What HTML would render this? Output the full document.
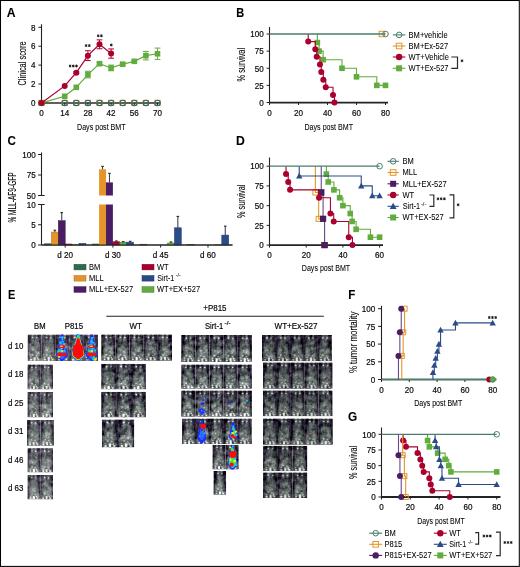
<!DOCTYPE html>
<html><head><meta charset="utf-8"><title>Figure</title>
<style>
html,body{margin:0;padding:0;background:#fff;}
body{width:520px;height:567px;overflow:hidden;position:relative;}
svg{display:block;will-change:transform;}
text{font-family:"Liberation Sans", sans-serif;stroke:#1a1a1a;stroke-width:0.22px;}
</style></head><body>
<svg width="520" height="567" viewBox="0 0 520 567" font-family='"Liberation Sans", sans-serif'>
<rect x="0" y="0" width="520" height="567" fill="#fff"/>
<text x="6.8" y="16.7" font-size="12.2" text-anchor="start" font-weight="bold" textLength="8.81" lengthAdjust="spacingAndGlyphs" fill="#000" style="stroke-width:0.1px">A</text>
<text x="236.2" y="16.9" font-size="12.2" text-anchor="start" font-weight="bold" textLength="7.93" lengthAdjust="spacingAndGlyphs" fill="#000" style="stroke-width:0.1px">B</text>
<text x="7.6" y="144.5" font-size="12.2" text-anchor="start" font-weight="bold" textLength="8.37" lengthAdjust="spacingAndGlyphs" fill="#000" style="stroke-width:0.1px">C</text>
<text x="236.1" y="144.5" font-size="12.2" text-anchor="start" font-weight="bold" textLength="8.81" lengthAdjust="spacingAndGlyphs" fill="#000" style="stroke-width:0.1px">D</text>
<text x="7.9" y="298.5" font-size="12.2" text-anchor="start" font-weight="bold" textLength="7.32" lengthAdjust="spacingAndGlyphs" fill="#000" style="stroke-width:0.1px">E</text>
<text x="348.3" y="298.6" font-size="12.2" text-anchor="start" font-weight="bold" textLength="7.08" lengthAdjust="spacingAndGlyphs" fill="#000" style="stroke-width:0.1px">F</text>
<text x="348.1" y="421.1" font-size="12.2" text-anchor="start" font-weight="bold" textLength="9.2" lengthAdjust="spacingAndGlyphs" fill="#000" style="stroke-width:0.1px">G</text>
<line x1="41.5" y1="24.3" x2="41.5" y2="102.9" stroke="#222" stroke-width="1.1"/>
<line x1="41.5" y1="102.9" x2="160.8" y2="102.9" stroke="#2a2a2a" stroke-width="1.5"/>
<line x1="41.5" y1="102.9" x2="41.5" y2="105.5" stroke="#222" stroke-width="1"/>
<line x1="64.7" y1="102.9" x2="64.7" y2="105.5" stroke="#222" stroke-width="1"/>
<line x1="87.9" y1="102.9" x2="87.9" y2="105.5" stroke="#222" stroke-width="1"/>
<line x1="111.1" y1="102.9" x2="111.1" y2="105.5" stroke="#222" stroke-width="1"/>
<line x1="134.3" y1="102.9" x2="134.3" y2="105.5" stroke="#222" stroke-width="1"/>
<line x1="157.5" y1="102.9" x2="157.5" y2="105.5" stroke="#222" stroke-width="1"/>
<line x1="38.4" y1="102.9" x2="41.5" y2="102.9" stroke="#222" stroke-width="1"/>
<text x="35.6" y="106.15" font-size="9.2" text-anchor="end" textLength="4.5" lengthAdjust="spacingAndGlyphs">0</text>
<line x1="38.4" y1="84" x2="41.5" y2="84" stroke="#222" stroke-width="1"/>
<text x="35.6" y="87.25" font-size="9.2" text-anchor="end" textLength="4.5" lengthAdjust="spacingAndGlyphs">2</text>
<line x1="38.4" y1="65.1" x2="41.5" y2="65.1" stroke="#222" stroke-width="1"/>
<text x="35.6" y="68.35" font-size="9.2" text-anchor="end" textLength="4.5" lengthAdjust="spacingAndGlyphs">4</text>
<line x1="38.4" y1="46.2" x2="41.5" y2="46.2" stroke="#222" stroke-width="1"/>
<text x="35.6" y="49.45" font-size="9.2" text-anchor="end" textLength="4.5" lengthAdjust="spacingAndGlyphs">6</text>
<line x1="38.4" y1="27.3" x2="41.5" y2="27.3" stroke="#222" stroke-width="1"/>
<text x="35.6" y="30.55" font-size="9.2" text-anchor="end" textLength="4.5" lengthAdjust="spacingAndGlyphs">8</text>
<text x="41.5" y="116.35" font-size="9.2" text-anchor="middle" textLength="4.5" lengthAdjust="spacingAndGlyphs">0</text>
<text x="64.7" y="116.35" font-size="9.2" text-anchor="middle" textLength="9" lengthAdjust="spacingAndGlyphs">14</text>
<text x="87.9" y="116.35" font-size="9.2" text-anchor="middle" textLength="9" lengthAdjust="spacingAndGlyphs">28</text>
<text x="111.1" y="116.35" font-size="9.2" text-anchor="middle" textLength="9" lengthAdjust="spacingAndGlyphs">42</text>
<text x="134.3" y="116.35" font-size="9.2" text-anchor="middle" textLength="9" lengthAdjust="spacingAndGlyphs">56</text>
<text x="157.5" y="116.35" font-size="9.2" text-anchor="middle" textLength="9" lengthAdjust="spacingAndGlyphs">70</text>
<text x="77" y="129.5" font-size="9.9" text-anchor="start" textLength="48.6" lengthAdjust="spacingAndGlyphs" style="stroke-width:0.08px">Days post BMT</text>
<text x="26.4" y="85.5" font-size="10.5" text-anchor="start" textLength="44.1" lengthAdjust="spacingAndGlyphs" transform="rotate(-90 26.4 85.5)" style="stroke-width:0.08px">Clinical score</text>
<rect x="38.9" y="100.3" width="5.2" height="5.2" fill="none" stroke="#e4952a" stroke-width="1"/>
<rect x="62.1" y="100.3" width="5.2" height="5.2" fill="none" stroke="#e4952a" stroke-width="1"/>
<rect x="73.7" y="100.3" width="5.2" height="5.2" fill="none" stroke="#e4952a" stroke-width="1"/>
<rect x="85.3" y="100.3" width="5.2" height="5.2" fill="none" stroke="#e4952a" stroke-width="1"/>
<rect x="96.9" y="100.3" width="5.2" height="5.2" fill="none" stroke="#e4952a" stroke-width="1"/>
<rect x="108.5" y="100.3" width="5.2" height="5.2" fill="none" stroke="#e4952a" stroke-width="1"/>
<rect x="120.1" y="100.3" width="5.2" height="5.2" fill="none" stroke="#e4952a" stroke-width="1"/>
<rect x="131.7" y="100.3" width="5.2" height="5.2" fill="none" stroke="#e4952a" stroke-width="1"/>
<rect x="143.3" y="100.3" width="5.2" height="5.2" fill="none" stroke="#e4952a" stroke-width="1"/>
<rect x="154.9" y="100.3" width="5.2" height="5.2" fill="none" stroke="#e4952a" stroke-width="1"/>
<circle cx="41.5" cy="102.9" r="2.65" fill="none" stroke="#2f6864" stroke-width="1.2"/>
<circle cx="64.7" cy="102.9" r="2.65" fill="none" stroke="#2f6864" stroke-width="1.2"/>
<circle cx="76.3" cy="102.9" r="2.65" fill="none" stroke="#2f6864" stroke-width="1.2"/>
<circle cx="87.9" cy="102.9" r="2.65" fill="none" stroke="#2f6864" stroke-width="1.2"/>
<circle cx="99.5" cy="102.9" r="2.65" fill="none" stroke="#2f6864" stroke-width="1.2"/>
<circle cx="111.1" cy="102.9" r="2.65" fill="none" stroke="#2f6864" stroke-width="1.2"/>
<circle cx="122.7" cy="102.9" r="2.65" fill="none" stroke="#2f6864" stroke-width="1.2"/>
<circle cx="134.3" cy="102.9" r="2.65" fill="none" stroke="#2f6864" stroke-width="1.2"/>
<circle cx="145.9" cy="102.9" r="2.65" fill="none" stroke="#2f6864" stroke-width="1.2"/>
<circle cx="157.5" cy="102.9" r="2.65" fill="none" stroke="#2f6864" stroke-width="1.2"/>
<path d="M41.5 102.9L64.7 96.29L76.3 87.31L87.9 74.55L99.5 63.68L111.1 67.94L122.7 64.16L134.3 61.32L145.9 55.65L157.5 53.76" stroke="#62ab3d" stroke-width="1.2" fill="none"/>
<line x1="87.9" y1="71.24" x2="87.9" y2="77.86" stroke="#62ab3d" stroke-width="0.9"/>
<line x1="85" y1="71.24" x2="90.8" y2="71.24" stroke="#62ab3d" stroke-width="1"/>
<line x1="85" y1="77.86" x2="90.8" y2="77.86" stroke="#62ab3d" stroke-width="1"/>
<line x1="99.5" y1="62.27" x2="99.5" y2="65.1" stroke="#62ab3d" stroke-width="0.9"/>
<line x1="96.6" y1="62.27" x2="102.4" y2="62.27" stroke="#62ab3d" stroke-width="1"/>
<line x1="96.6" y1="65.1" x2="102.4" y2="65.1" stroke="#62ab3d" stroke-width="1"/>
<line x1="111.1" y1="65.1" x2="111.1" y2="70.77" stroke="#62ab3d" stroke-width="0.9"/>
<line x1="108.2" y1="65.1" x2="114" y2="65.1" stroke="#62ab3d" stroke-width="1"/>
<line x1="108.2" y1="70.77" x2="114" y2="70.77" stroke="#62ab3d" stroke-width="1"/>
<line x1="122.7" y1="63.21" x2="122.7" y2="65.1" stroke="#62ab3d" stroke-width="0.9"/>
<line x1="119.8" y1="63.21" x2="125.6" y2="63.21" stroke="#62ab3d" stroke-width="1"/>
<line x1="119.8" y1="65.1" x2="125.6" y2="65.1" stroke="#62ab3d" stroke-width="1"/>
<line x1="134.3" y1="60.38" x2="134.3" y2="62.27" stroke="#62ab3d" stroke-width="0.9"/>
<line x1="131.4" y1="60.38" x2="137.2" y2="60.38" stroke="#62ab3d" stroke-width="1"/>
<line x1="131.4" y1="62.27" x2="137.2" y2="62.27" stroke="#62ab3d" stroke-width="1"/>
<line x1="145.9" y1="51.4" x2="145.9" y2="59.9" stroke="#62ab3d" stroke-width="0.9"/>
<line x1="143" y1="51.4" x2="148.8" y2="51.4" stroke="#62ab3d" stroke-width="1"/>
<line x1="143" y1="59.9" x2="148.8" y2="59.9" stroke="#62ab3d" stroke-width="1"/>
<line x1="157.5" y1="48.09" x2="157.5" y2="59.43" stroke="#62ab3d" stroke-width="0.9"/>
<line x1="154.6" y1="48.09" x2="160.4" y2="48.09" stroke="#62ab3d" stroke-width="1"/>
<line x1="154.6" y1="59.43" x2="160.4" y2="59.43" stroke="#62ab3d" stroke-width="1"/>
<rect x="38.7" y="100.1" width="5.6" height="5.6" fill="#62ab3d"/>
<rect x="61.9" y="93.49" width="5.6" height="5.6" fill="#62ab3d"/>
<rect x="73.5" y="84.51" width="5.6" height="5.6" fill="#62ab3d"/>
<rect x="85.1" y="71.75" width="5.6" height="5.6" fill="#62ab3d"/>
<rect x="96.7" y="60.88" width="5.6" height="5.6" fill="#62ab3d"/>
<rect x="108.3" y="65.14" width="5.6" height="5.6" fill="#62ab3d"/>
<rect x="119.9" y="61.36" width="5.6" height="5.6" fill="#62ab3d"/>
<rect x="131.5" y="58.52" width="5.6" height="5.6" fill="#62ab3d"/>
<rect x="143.1" y="52.85" width="5.6" height="5.6" fill="#62ab3d"/>
<rect x="154.7" y="50.96" width="5.6" height="5.6" fill="#62ab3d"/>
<path d="M41.5 102.9L64.7 85.89L76.3 72.66L87.9 55.65L99.5 44.31L111.1 53.57" stroke="#a9002f" stroke-width="1.2" fill="none"/>
<line x1="76.3" y1="71.72" x2="76.3" y2="73.61" stroke="#a9002f" stroke-width="0.9"/>
<line x1="73.4" y1="71.72" x2="79.2" y2="71.72" stroke="#a9002f" stroke-width="1"/>
<line x1="73.4" y1="73.61" x2="79.2" y2="73.61" stroke="#a9002f" stroke-width="1"/>
<line x1="87.9" y1="50.74" x2="87.9" y2="60.56" stroke="#a9002f" stroke-width="0.9"/>
<line x1="85" y1="50.74" x2="90.8" y2="50.74" stroke="#a9002f" stroke-width="1"/>
<line x1="85" y1="60.56" x2="90.8" y2="60.56" stroke="#a9002f" stroke-width="1"/>
<line x1="99.5" y1="39.87" x2="99.5" y2="48.75" stroke="#a9002f" stroke-width="0.9"/>
<line x1="96.6" y1="39.87" x2="102.4" y2="39.87" stroke="#a9002f" stroke-width="1"/>
<line x1="96.6" y1="48.75" x2="102.4" y2="48.75" stroke="#a9002f" stroke-width="1"/>
<line x1="111.1" y1="48.94" x2="111.1" y2="58.2" stroke="#a9002f" stroke-width="0.9"/>
<line x1="108.2" y1="48.94" x2="114" y2="48.94" stroke="#a9002f" stroke-width="1"/>
<line x1="108.2" y1="58.2" x2="114" y2="58.2" stroke="#a9002f" stroke-width="1"/>
<circle cx="41.5" cy="102.9" r="3" fill="#a9002f"/>
<circle cx="64.7" cy="85.89" r="3" fill="#a9002f"/>
<circle cx="76.3" cy="72.66" r="3" fill="#a9002f"/>
<circle cx="87.9" cy="55.65" r="3" fill="#a9002f"/>
<circle cx="99.5" cy="44.31" r="3" fill="#a9002f"/>
<circle cx="111.1" cy="53.57" r="3" fill="#a9002f"/>
<path d="M70.1 65L70.1 67M69.23 65.5L70.97 66.5M70.97 65.5L69.23 66.5M73.3 65L73.3 67M72.43 65.5L74.17 66.5M74.17 65.5L72.43 66.5M76.5 65L76.5 67M75.63 65.5L77.37 66.5M77.37 65.5L75.63 66.5" stroke="#1a1a1a" stroke-width="1" stroke-linecap="round" fill="none"/>
<path d="M86.1 44.6L86.1 46.6M85.23 45.1L86.97 46.1M86.97 45.1L85.23 46.1M89.3 44.6L89.3 46.6M88.43 45.1L90.17 46.1M90.17 45.1L88.43 46.1" stroke="#1a1a1a" stroke-width="1" stroke-linecap="round" fill="none"/>
<path d="M98.2 34.8L98.2 36.8M97.33 35.3L99.07 36.3M99.07 35.3L97.33 36.3M101.4 34.8L101.4 36.8M100.53 35.3L102.27 36.3M102.27 35.3L100.53 36.3" stroke="#1a1a1a" stroke-width="1" stroke-linecap="round" fill="none"/>
<path d="M111.3 44L111.3 46M110.43 44.5L112.17 45.5M112.17 44.5L110.43 45.5" stroke="#1a1a1a" stroke-width="1" stroke-linecap="round" fill="none"/>
<line x1="269.5" y1="27" x2="269.5" y2="102.5" stroke="#222" stroke-width="1.1"/>
<line x1="269.5" y1="102.7" x2="388" y2="102.7" stroke="#222" stroke-width="1.8"/>
<line x1="266.6" y1="102.5" x2="269.5" y2="102.5" stroke="#222" stroke-width="1"/>
<text x="263.8" y="105.75" font-size="9.2" text-anchor="end" textLength="4.5" lengthAdjust="spacingAndGlyphs">0</text>
<line x1="266.6" y1="85.38" x2="269.5" y2="85.38" stroke="#222" stroke-width="1"/>
<text x="263.8" y="88.62" font-size="9.2" text-anchor="end" textLength="9" lengthAdjust="spacingAndGlyphs">25</text>
<line x1="266.6" y1="68.25" x2="269.5" y2="68.25" stroke="#222" stroke-width="1"/>
<text x="263.8" y="71.5" font-size="9.2" text-anchor="end" textLength="9" lengthAdjust="spacingAndGlyphs">50</text>
<line x1="266.6" y1="51.12" x2="269.5" y2="51.12" stroke="#222" stroke-width="1"/>
<text x="263.8" y="54.37" font-size="9.2" text-anchor="end" textLength="9" lengthAdjust="spacingAndGlyphs">75</text>
<line x1="266.6" y1="34" x2="269.5" y2="34" stroke="#222" stroke-width="1"/>
<text x="263.8" y="37.25" font-size="9.2" text-anchor="end" textLength="13.51" lengthAdjust="spacingAndGlyphs">100</text>
<line x1="269.5" y1="102.5" x2="269.5" y2="105" stroke="#222" stroke-width="1"/>
<text x="269.5" y="116.25" font-size="9.2" text-anchor="middle" textLength="4.5" lengthAdjust="spacingAndGlyphs">0</text>
<line x1="298.5" y1="102.5" x2="298.5" y2="105" stroke="#222" stroke-width="1"/>
<text x="298.5" y="116.25" font-size="9.2" text-anchor="middle" textLength="9" lengthAdjust="spacingAndGlyphs">20</text>
<line x1="327.5" y1="102.5" x2="327.5" y2="105" stroke="#222" stroke-width="1"/>
<text x="327.5" y="116.25" font-size="9.2" text-anchor="middle" textLength="9" lengthAdjust="spacingAndGlyphs">40</text>
<line x1="356.5" y1="102.5" x2="356.5" y2="105" stroke="#222" stroke-width="1"/>
<text x="356.5" y="116.25" font-size="9.2" text-anchor="middle" textLength="9" lengthAdjust="spacingAndGlyphs">60</text>
<line x1="385.5" y1="102.5" x2="385.5" y2="105" stroke="#222" stroke-width="1"/>
<text x="385.5" y="116.25" font-size="9.2" text-anchor="middle" textLength="9" lengthAdjust="spacingAndGlyphs">80</text>
<text x="304.5" y="129.5" font-size="9.9" text-anchor="start" textLength="48.5" lengthAdjust="spacingAndGlyphs" style="stroke-width:0.08px">Days post BMT</text>
<text x="245" y="81.4" font-size="10.5" text-anchor="start" textLength="33.5" lengthAdjust="spacingAndGlyphs" transform="rotate(-90 245 81.4)" style="stroke-width:0.08px">% survival</text>
<path d="M317.35 34H317.35V42.56H319.09V51.12H323.15V59.69H342V68.25H356.5V76.81H376.8V85.38H385.5" stroke="#62ab3d" stroke-width="1.1" fill="none"/>
<rect x="314.55" y="39.76" width="5.6" height="5.6" fill="#62ab3d"/>
<rect x="316.29" y="48.32" width="5.6" height="5.6" fill="#62ab3d"/>
<rect x="320.35" y="56.89" width="5.6" height="5.6" fill="#62ab3d"/>
<rect x="339.2" y="65.45" width="5.6" height="5.6" fill="#62ab3d"/>
<rect x="353.7" y="74.01" width="5.6" height="5.6" fill="#62ab3d"/>
<rect x="374" y="82.58" width="5.6" height="5.6" fill="#62ab3d"/>
<rect x="382.7" y="82.58" width="5.6" height="5.6" fill="#62ab3d"/>
<path d="M308.21 34H308.21V41.6H315.32V49.21H316.77V56.81H319.96V64.41H321.26V72.09H323.3V79.69H325.76V87.29H333.01V94.9H334.46V102.5" stroke="#a9002f" stroke-width="1.1" fill="none"/>
<circle cx="308.21" cy="41.6" r="3" fill="#a9002f"/>
<circle cx="315.32" cy="49.21" r="3" fill="#a9002f"/>
<circle cx="316.77" cy="56.81" r="3" fill="#a9002f"/>
<circle cx="319.96" cy="64.41" r="3" fill="#a9002f"/>
<circle cx="321.26" cy="72.09" r="3" fill="#a9002f"/>
<circle cx="323.3" cy="79.69" r="3" fill="#a9002f"/>
<circle cx="325.76" cy="87.29" r="3" fill="#a9002f"/>
<circle cx="333.01" cy="94.9" r="3" fill="#a9002f"/>
<circle cx="334.46" cy="102.5" r="3" fill="#a9002f"/>
<rect x="379.18" y="31.3" width="5.4" height="5.4" fill="none" stroke="#e4952a" stroke-width="1"/>
<path d="M269.5 34H385.5" stroke="#477e6c" stroke-width="1.3" fill="none"/>
<circle cx="385.5" cy="34" r="2.8" fill="none" stroke="#477e6c" stroke-width="1"/>
<line x1="392.8" y1="34.9" x2="405.4" y2="34.9" stroke="#477e6c" stroke-width="1.1"/>
<circle cx="399.1" cy="34.9" r="2.8" fill="none" stroke="#477e6c" stroke-width="1"/>
<text x="408.6" y="37.65" font-size="8.6" text-anchor="start" textLength="39.11" lengthAdjust="spacingAndGlyphs" style="stroke-width:0.06px">BM+vehicle</text>
<line x1="392.8" y1="46" x2="405.4" y2="46" stroke="#e4952a" stroke-width="1.1"/>
<rect x="396.3" y="43.2" width="5.6" height="5.6" fill="none" stroke="#e4952a" stroke-width="1"/>
<text x="408.6" y="48.75" font-size="8.6" text-anchor="start" textLength="39.52" lengthAdjust="spacingAndGlyphs" style="stroke-width:0.06px">BM+Ex-527</text>
<line x1="392.8" y1="57" x2="405.4" y2="57" stroke="#a9002f" stroke-width="1.1"/>
<circle cx="399.1" cy="57" r="3.2" fill="#a9002f"/>
<text x="408.6" y="59.75" font-size="8.6" text-anchor="start" textLength="40.36" lengthAdjust="spacingAndGlyphs" style="stroke-width:0.06px">WT+Vehicle</text>
<line x1="392.8" y1="68.3" x2="405.4" y2="68.3" stroke="#62ab3d" stroke-width="1.1"/>
<rect x="396.1" y="65.3" width="6" height="6" fill="#62ab3d"/>
<text x="408.6" y="71.05" font-size="8.6" text-anchor="start" textLength="39.94" lengthAdjust="spacingAndGlyphs" style="stroke-width:0.06px">WT+Ex-527</text>
<path d="M451.3 57H457.5V68.3H451.3" stroke="#2a2a2a" stroke-width="1.2" fill="none"/>
<path d="M462 59.8L462 61.8M461.13 60.3L462.87 61.3M462.87 60.3L461.13 61.3" stroke="#1a1a1a" stroke-width="1" stroke-linecap="round" fill="none"/>
<line x1="41.5" y1="152.5" x2="41.5" y2="195.5" stroke="#222" stroke-width="1.1"/>
<line x1="41.5" y1="204" x2="41.5" y2="245" stroke="#222" stroke-width="1.1"/>
<line x1="41.5" y1="245" x2="232.5" y2="245" stroke="#222" stroke-width="1.2"/>
<line x1="38" y1="195.5" x2="44.7" y2="195.5" stroke="#222" stroke-width="1"/>
<text x="35.8" y="198.75" font-size="9.2" text-anchor="end" textLength="9" lengthAdjust="spacingAndGlyphs">50</text>
<line x1="38" y1="175" x2="41.5" y2="175" stroke="#222" stroke-width="1"/>
<text x="35.8" y="178.25" font-size="9.2" text-anchor="end" textLength="9" lengthAdjust="spacingAndGlyphs">75</text>
<line x1="38" y1="154.5" x2="41.5" y2="154.5" stroke="#222" stroke-width="1"/>
<text x="35.8" y="157.75" font-size="9.2" text-anchor="end" textLength="13.51" lengthAdjust="spacingAndGlyphs">100</text>
<line x1="38" y1="245" x2="41.5" y2="245" stroke="#222" stroke-width="1"/>
<text x="35.8" y="248.25" font-size="9.2" text-anchor="end" textLength="4.5" lengthAdjust="spacingAndGlyphs">0</text>
<line x1="38" y1="224.75" x2="41.5" y2="224.75" stroke="#222" stroke-width="1"/>
<text x="35.8" y="228" font-size="9.2" text-anchor="end" textLength="4.5" lengthAdjust="spacingAndGlyphs">5</text>
<line x1="38" y1="204.5" x2="44.7" y2="204.5" stroke="#222" stroke-width="1"/>
<text x="35.8" y="207.75" font-size="9.2" text-anchor="end" textLength="9" lengthAdjust="spacingAndGlyphs">10</text>
<text x="16.2" y="222.6" font-size="10" text-anchor="start" textLength="50.2" lengthAdjust="spacingAndGlyphs" transform="rotate(-90 16.2 222.6)" style="stroke-width:0.12px">% MLL-AF9-GFP</text>
<line x1="65.2" y1="245" x2="65.2" y2="247.6" stroke="#222" stroke-width="1"/>
<text x="65.2" y="258.3" font-size="9.2" text-anchor="middle" textLength="15.76" lengthAdjust="spacingAndGlyphs">d 20</text>
<line x1="112.9" y1="245" x2="112.9" y2="247.6" stroke="#222" stroke-width="1"/>
<text x="112.9" y="258.3" font-size="9.2" text-anchor="middle" textLength="15.76" lengthAdjust="spacingAndGlyphs">d 30</text>
<line x1="160.6" y1="245" x2="160.6" y2="247.6" stroke="#222" stroke-width="1"/>
<text x="160.6" y="258.3" font-size="9.2" text-anchor="middle" textLength="15.76" lengthAdjust="spacingAndGlyphs">d 45</text>
<line x1="208" y1="245" x2="208" y2="247.6" stroke="#222" stroke-width="1"/>
<text x="208" y="258.3" font-size="9.2" text-anchor="middle" textLength="15.76" lengthAdjust="spacingAndGlyphs">d 60</text>
<rect x="44.5" y="243.78" width="6.9" height="1.22" fill="#2f6a4e" stroke="#234f3a" stroke-width="0.5"/>
<rect x="51.4" y="232.04" width="6.9" height="12.96" fill="#e4952a" stroke="#ab6f1f" stroke-width="0.5"/>
<line x1="54.85" y1="230.22" x2="54.85" y2="232.04" stroke="#333" stroke-width="1"/>
<line x1="53.55" y1="230.22" x2="56.15" y2="230.22" stroke="#333" stroke-width="1.2"/>
<rect x="58.3" y="220.7" width="6.9" height="24.3" fill="#4a1d64" stroke="#37154b" stroke-width="0.5"/>
<line x1="61.75" y1="212.6" x2="61.75" y2="220.7" stroke="#333" stroke-width="1"/>
<line x1="60.45" y1="212.6" x2="63.05" y2="212.6" stroke="#333" stroke-width="1.2"/>
<rect x="65.2" y="243.99" width="6.9" height="1.01" fill="#a9002f" stroke="#7e0023" stroke-width="0.5"/>
<rect x="72.1" y="244.39" width="6.9" height="0.61" fill="#62ab3d" stroke="#49802d" stroke-width="0.5"/>
<rect x="79" y="243.38" width="6.9" height="1.62" fill="#2b4b88" stroke="#203866" stroke-width="0.5"/>
<rect x="92.2" y="243.99" width="6.9" height="1.01" fill="#2f6a4e" stroke="#234f3a" stroke-width="0.5"/>
<rect x="99.1" y="204.5" width="6.9" height="40.5" fill="#e4952a"/>
<rect x="99.1" y="169.26" width="6.9" height="26.24" fill="#e4952a"/>
<line x1="102.55" y1="166.39" x2="102.55" y2="169.26" stroke="#333" stroke-width="1"/>
<line x1="101.25" y1="166.39" x2="103.85" y2="166.39" stroke="#333" stroke-width="1.2"/>
<rect x="106" y="204.5" width="6.9" height="40.5" fill="#4a1d64"/>
<rect x="106" y="182.38" width="6.9" height="13.12" fill="#4a1d64"/>
<line x1="109.45" y1="173.36" x2="109.45" y2="182.38" stroke="#333" stroke-width="1"/>
<line x1="108.15" y1="173.36" x2="110.75" y2="173.36" stroke="#333" stroke-width="1.2"/>
<rect x="112.9" y="241.76" width="6.9" height="3.24" fill="#a9002f" stroke="#7e0023" stroke-width="0.5"/>
<line x1="116.35" y1="240.95" x2="116.35" y2="241.76" stroke="#333" stroke-width="1"/>
<line x1="115.05" y1="240.95" x2="117.65" y2="240.95" stroke="#333" stroke-width="1.2"/>
<rect x="119.8" y="242.16" width="6.9" height="2.84" fill="#62ab3d" stroke="#49802d" stroke-width="0.5"/>
<line x1="123.25" y1="241.56" x2="123.25" y2="242.16" stroke="#333" stroke-width="1"/>
<line x1="121.95" y1="241.56" x2="124.55" y2="241.56" stroke="#333" stroke-width="1.2"/>
<rect x="126.7" y="242.16" width="6.9" height="2.84" fill="#2b4b88" stroke="#203866" stroke-width="0.5"/>
<line x1="130.15" y1="241.35" x2="130.15" y2="242.16" stroke="#333" stroke-width="1"/>
<line x1="128.85" y1="241.35" x2="131.45" y2="241.35" stroke="#333" stroke-width="1.2"/>
<rect x="139.9" y="244.19" width="6.9" height="0.81" fill="#2f6a4e" stroke="#234f3a" stroke-width="0.5"/>
<rect x="167.5" y="242.97" width="6.9" height="2.03" fill="#62ab3d" stroke="#49802d" stroke-width="0.5"/>
<line x1="170.95" y1="241.96" x2="170.95" y2="242.97" stroke="#333" stroke-width="1"/>
<line x1="169.65" y1="241.96" x2="172.25" y2="241.96" stroke="#333" stroke-width="1.2"/>
<rect x="174.4" y="227.79" width="6.9" height="17.21" fill="#2b4b88" stroke="#203866" stroke-width="0.5"/>
<line x1="177.85" y1="216.45" x2="177.85" y2="227.79" stroke="#333" stroke-width="1"/>
<line x1="176.55" y1="216.45" x2="179.15" y2="216.45" stroke="#333" stroke-width="1.2"/>
<rect x="187.3" y="244.59" width="6.9" height="0.41" fill="#2f6a4e" stroke="#234f3a" stroke-width="0.5"/>
<rect x="214.9" y="244.39" width="6.9" height="0.61" fill="#62ab3d" stroke="#49802d" stroke-width="0.5"/>
<rect x="221.8" y="235.08" width="6.9" height="9.92" fill="#2b4b88" stroke="#203866" stroke-width="0.5"/>
<line x1="225.25" y1="226.17" x2="225.25" y2="235.08" stroke="#333" stroke-width="1"/>
<line x1="223.95" y1="226.17" x2="226.55" y2="226.17" stroke="#333" stroke-width="1.2"/>
<line x1="41.5" y1="245" x2="232.5" y2="245" stroke="#222" stroke-width="1.2"/>
<rect x="74" y="264.3" width="12" height="5.6" fill="#2f6a4e" stroke="#234f3a" stroke-width="0.5"/>
<text x="89" y="269.85" font-size="8.6" text-anchor="start" textLength="11.29" lengthAdjust="spacingAndGlyphs" style="stroke-width:0.06px">BM</text>
<rect x="74" y="275.5" width="12" height="5.6" fill="#e4952a" stroke="#ab6f1f" stroke-width="0.5"/>
<text x="89" y="281.05" font-size="8.6" text-anchor="start" textLength="14.64" lengthAdjust="spacingAndGlyphs" style="stroke-width:0.06px">MLL</text>
<rect x="74" y="286.7" width="12" height="5.6" fill="#4a1d64" stroke="#37154b" stroke-width="0.5"/>
<text x="89" y="292.25" font-size="8.6" text-anchor="start" textLength="44.13" lengthAdjust="spacingAndGlyphs" style="stroke-width:0.06px">MLL+EX-527</text>
<rect x="142" y="264.3" width="12" height="5.6" fill="#a9002f" stroke="#7e0023" stroke-width="0.5"/>
<text x="157" y="269.85" font-size="8.6" text-anchor="start" textLength="11.7" lengthAdjust="spacingAndGlyphs" style="stroke-width:0.06px">WT</text>
<rect x="142" y="275.5" width="12" height="5.6" fill="#2b4b88" stroke="#203866" stroke-width="0.5"/>
<text x="157.3" y="281.05" font-size="8.6" text-anchor="start" textLength="16.9" lengthAdjust="spacingAndGlyphs" style="stroke-width:0.06px">Sirt-1</text>
<text x="175.8" y="277" font-size="5.6" text-anchor="start" textLength="5" lengthAdjust="spacingAndGlyphs" style="stroke-width:0.06px">-/-</text>
<rect x="142" y="286.7" width="12" height="5.6" fill="#62ab3d" stroke="#49802d" stroke-width="0.5"/>
<text x="157" y="292.25" font-size="8.6" text-anchor="start" textLength="43.08" lengthAdjust="spacingAndGlyphs" style="stroke-width:0.06px">WT+EX+527</text>
<line x1="269.5" y1="157.5" x2="269.5" y2="245.1" stroke="#222" stroke-width="1.1"/>
<line x1="269.5" y1="245.1" x2="383" y2="245.1" stroke="#222" stroke-width="1.6"/>
<line x1="266.6" y1="245.1" x2="269.5" y2="245.1" stroke="#222" stroke-width="1"/>
<text x="263.8" y="248.35" font-size="9.2" text-anchor="end" textLength="4.5" lengthAdjust="spacingAndGlyphs">0</text>
<line x1="266.6" y1="225.38" x2="269.5" y2="225.38" stroke="#222" stroke-width="1"/>
<text x="263.8" y="228.62" font-size="9.2" text-anchor="end" textLength="9" lengthAdjust="spacingAndGlyphs">25</text>
<line x1="266.6" y1="205.65" x2="269.5" y2="205.65" stroke="#222" stroke-width="1"/>
<text x="263.8" y="208.9" font-size="9.2" text-anchor="end" textLength="9" lengthAdjust="spacingAndGlyphs">50</text>
<line x1="266.6" y1="185.92" x2="269.5" y2="185.92" stroke="#222" stroke-width="1"/>
<text x="263.8" y="189.17" font-size="9.2" text-anchor="end" textLength="9" lengthAdjust="spacingAndGlyphs">75</text>
<line x1="266.6" y1="166.2" x2="269.5" y2="166.2" stroke="#222" stroke-width="1"/>
<text x="263.8" y="169.45" font-size="9.2" text-anchor="end" textLength="13.51" lengthAdjust="spacingAndGlyphs">100</text>
<line x1="269.5" y1="245.1" x2="269.5" y2="247.6" stroke="#222" stroke-width="1"/>
<text x="269.5" y="258.25" font-size="9.2" text-anchor="middle" textLength="4.5" lengthAdjust="spacingAndGlyphs">0</text>
<line x1="306.2" y1="245.1" x2="306.2" y2="247.6" stroke="#222" stroke-width="1"/>
<text x="306.2" y="258.25" font-size="9.2" text-anchor="middle" textLength="9" lengthAdjust="spacingAndGlyphs">20</text>
<line x1="342.9" y1="245.1" x2="342.9" y2="247.6" stroke="#222" stroke-width="1"/>
<text x="342.9" y="258.25" font-size="9.2" text-anchor="middle" textLength="9" lengthAdjust="spacingAndGlyphs">40</text>
<line x1="379.6" y1="245.1" x2="379.6" y2="247.6" stroke="#222" stroke-width="1"/>
<text x="379.6" y="258.25" font-size="9.2" text-anchor="middle" textLength="9" lengthAdjust="spacingAndGlyphs">60</text>
<text x="301.8" y="271.4" font-size="9.9" text-anchor="start" textLength="48.4" lengthAdjust="spacingAndGlyphs" style="stroke-width:0.08px">Days post BMT</text>
<text x="245.1" y="218.1" font-size="10.5" text-anchor="start" textLength="33.5" lengthAdjust="spacingAndGlyphs" transform="rotate(-90 245.1 218.1)" style="stroke-width:0.08px">% survival</text>
<path d="M315.38 166.2H315.38V192.47H318.68V218.83H324.55V245.1" stroke="#e4952a" stroke-width="1.1" fill="none"/>
<rect x="312.88" y="189.97" width="5" height="5" fill="none" stroke="#e4952a" stroke-width="1"/>
<rect x="316.18" y="216.33" width="5" height="5" fill="none" stroke="#e4952a" stroke-width="1"/>
<rect x="322.05" y="242.6" width="5" height="5" fill="none" stroke="#e4952a" stroke-width="1"/>
<path d="M321.25 166.2H321.25V192.47H323.08V218.83H324.55V245.1" stroke="#6a4a8a" stroke-width="1.1" fill="none"/>
<rect x="318.45" y="189.67" width="5.6" height="5.6" fill="#4a1d64" stroke="#2a0d3d" stroke-width="0.6"/>
<rect x="320.28" y="216.03" width="5.6" height="5.6" fill="#4a1d64" stroke="#2a0d3d" stroke-width="0.6"/>
<rect x="321.75" y="242.3" width="5.6" height="5.6" fill="#4a1d64" stroke="#2a0d3d" stroke-width="0.6"/>
<path d="M286.01 166.2H286.01V174.09H288.22V181.98H290.05V189.87H319.05V197.76H330.42V213.54H333.73V221.43H348.77V237.21H352.44V245.1" stroke="#a9002f" stroke-width="1.1" fill="none"/>
<circle cx="286.01" cy="174.09" r="3" fill="#a9002f"/>
<circle cx="288.22" cy="181.98" r="3" fill="#a9002f"/>
<circle cx="290.05" cy="189.87" r="3" fill="#a9002f"/>
<circle cx="319.05" cy="197.76" r="3" fill="#a9002f"/>
<circle cx="330.42" cy="213.54" r="3" fill="#a9002f"/>
<circle cx="333.73" cy="221.43" r="3" fill="#a9002f"/>
<circle cx="348.77" cy="237.21" r="3" fill="#a9002f"/>
<circle cx="352.44" cy="245.1" r="3" fill="#a9002f"/>
<path d="M326.38 166.2H326.38V174.09H328.22V181.98H333.91V189.87H339.6V197.76H342.9V205.65H350.24V213.54H352.07V221.43H356.11V229.32H370.43V237.21H379.6" stroke="#62ab3d" stroke-width="1.1" fill="none"/>
<rect x="323.58" y="171.29" width="5.6" height="5.6" fill="#62ab3d"/>
<rect x="325.42" y="179.18" width="5.6" height="5.6" fill="#62ab3d"/>
<rect x="331.11" y="187.07" width="5.6" height="5.6" fill="#62ab3d"/>
<rect x="336.8" y="194.96" width="5.6" height="5.6" fill="#62ab3d"/>
<rect x="340.1" y="202.85" width="5.6" height="5.6" fill="#62ab3d"/>
<rect x="347.44" y="210.74" width="5.6" height="5.6" fill="#62ab3d"/>
<rect x="349.27" y="218.63" width="5.6" height="5.6" fill="#62ab3d"/>
<rect x="353.31" y="226.52" width="5.6" height="5.6" fill="#62ab3d"/>
<rect x="367.62" y="234.41" width="5.6" height="5.6" fill="#62ab3d"/>
<rect x="376.8" y="234.41" width="5.6" height="5.6" fill="#62ab3d"/>
<path d="M299.23 166.2H299.23V176.06H361.25V185.92H372.26V195.79H379.6" stroke="#2b4b88" stroke-width="1.1" fill="none"/>
<path d="M299.23 172.84L302.43 178.6L296.03 178.6Z" fill="#2b4b88"/>
<path d="M361.25 182.7L364.45 188.46L358.05 188.46Z" fill="#2b4b88"/>
<path d="M372.26 192.56L375.46 198.32L369.06 198.32Z" fill="#2b4b88"/>
<path d="M379.6 192.56L382.8 198.32L376.4 198.32Z" fill="#2b4b88"/>
<path d="M269.5 166.2H379.6" stroke="#477e6c" stroke-width="1.3" fill="none"/>
<circle cx="379.6" cy="166.2" r="2.8" fill="none" stroke="#477e6c" stroke-width="1"/>
<line x1="387.5" y1="161.3" x2="398.8" y2="161.3" stroke="#477e6c" stroke-width="1.1"/>
<circle cx="393.15" cy="161.3" r="2.8" fill="none" stroke="#477e6c" stroke-width="1"/>
<text x="402.5" y="164.05" font-size="8.6" text-anchor="start" textLength="11.29" lengthAdjust="spacingAndGlyphs" style="stroke-width:0.06px">BM</text>
<line x1="387.5" y1="172.5" x2="398.8" y2="172.5" stroke="#e4952a" stroke-width="1.1"/>
<rect x="390.35" y="169.7" width="5.6" height="5.6" fill="none" stroke="#e4952a" stroke-width="1"/>
<text x="402.5" y="175.25" font-size="8.6" text-anchor="start" textLength="14.64" lengthAdjust="spacingAndGlyphs" style="stroke-width:0.06px">MLL</text>
<line x1="387.5" y1="183.8" x2="398.8" y2="183.8" stroke="#4a1d64" stroke-width="1.1"/>
<rect x="390.15" y="180.8" width="6" height="6" fill="#4a1d64"/>
<text x="402.5" y="186.55" font-size="8.6" text-anchor="start" textLength="44.13" lengthAdjust="spacingAndGlyphs" style="stroke-width:0.06px">MLL+EX-527</text>
<line x1="387.5" y1="195" x2="398.8" y2="195" stroke="#a9002f" stroke-width="1.1"/>
<circle cx="393.15" cy="195" r="3.2" fill="#a9002f"/>
<text x="402.5" y="197.75" font-size="8.6" text-anchor="start" textLength="11.7" lengthAdjust="spacingAndGlyphs" style="stroke-width:0.06px">WT</text>
<line x1="387.5" y1="206.3" x2="398.8" y2="206.3" stroke="#2b4b88" stroke-width="1.1"/>
<path d="M393.15 202.87L396.55 208.99L389.75 208.99Z" fill="#2b4b88"/>
<text x="402.75" y="209.05" font-size="8.6" text-anchor="start" textLength="17.3" lengthAdjust="spacingAndGlyphs" style="stroke-width:0.06px">Sirt-1</text>
<text x="421" y="206.4" font-size="5.6" text-anchor="start" textLength="5.3" lengthAdjust="spacingAndGlyphs" style="stroke-width:0.06px">-/-</text>
<line x1="387.5" y1="217.5" x2="398.8" y2="217.5" stroke="#62ab3d" stroke-width="1.1"/>
<rect x="390.15" y="214.5" width="6" height="6" fill="#62ab3d"/>
<text x="402.5" y="220.25" font-size="8.6" text-anchor="start" textLength="41.19" lengthAdjust="spacingAndGlyphs" style="stroke-width:0.06px">WT+EX-527</text>
<path d="M429.5 195H433.8V206.3H429.5" stroke="#2a2a2a" stroke-width="1.2" fill="none"/>
<path d="M438 197.8L438 199.8M437.13 198.3L438.87 199.3M438.87 198.3L437.13 199.3M441.2 197.8L441.2 199.8M440.33 198.3L442.07 199.3M442.07 198.3L440.33 199.3M444.4 197.8L444.4 199.8M443.53 198.3L445.27 199.3M445.27 198.3L443.53 199.3" stroke="#1a1a1a" stroke-width="1" stroke-linecap="round" fill="none"/>
<path d="M449.5 194.9H453.8V217.9H449.5" stroke="#2a2a2a" stroke-width="1.2" fill="none"/>
<path d="M458.1 203.8L458.1 205.8M457.23 204.3L458.97 205.3M458.97 204.3L457.23 205.3" stroke="#1a1a1a" stroke-width="1" stroke-linecap="round" fill="none"/>
<line x1="381.5" y1="305.8" x2="381.5" y2="379.5" stroke="#222" stroke-width="1.1"/>
<line x1="378" y1="379.5" x2="381.5" y2="379.5" stroke="#222" stroke-width="1"/>
<text x="375.3" y="382.75" font-size="9.2" text-anchor="end" textLength="4.5" lengthAdjust="spacingAndGlyphs">0</text>
<line x1="378" y1="361.8" x2="381.5" y2="361.8" stroke="#222" stroke-width="1"/>
<text x="375.3" y="365.05" font-size="9.2" text-anchor="end" textLength="9" lengthAdjust="spacingAndGlyphs">25</text>
<line x1="378" y1="344.1" x2="381.5" y2="344.1" stroke="#222" stroke-width="1"/>
<text x="375.3" y="347.35" font-size="9.2" text-anchor="end" textLength="9" lengthAdjust="spacingAndGlyphs">50</text>
<line x1="378" y1="326.4" x2="381.5" y2="326.4" stroke="#222" stroke-width="1"/>
<text x="375.3" y="329.65" font-size="9.2" text-anchor="end" textLength="9" lengthAdjust="spacingAndGlyphs">75</text>
<line x1="378" y1="308.7" x2="381.5" y2="308.7" stroke="#222" stroke-width="1"/>
<text x="375.3" y="311.95" font-size="9.2" text-anchor="end" textLength="13.51" lengthAdjust="spacingAndGlyphs">100</text>
<line x1="381.5" y1="379.5" x2="381.5" y2="382" stroke="#222" stroke-width="1"/>
<text x="381.5" y="393.25" font-size="9.2" text-anchor="middle" textLength="4.5" lengthAdjust="spacingAndGlyphs">0</text>
<line x1="409.3" y1="379.5" x2="409.3" y2="382" stroke="#222" stroke-width="1"/>
<text x="409.3" y="393.25" font-size="9.2" text-anchor="middle" textLength="9" lengthAdjust="spacingAndGlyphs">20</text>
<line x1="437.1" y1="379.5" x2="437.1" y2="382" stroke="#222" stroke-width="1"/>
<text x="437.1" y="393.25" font-size="9.2" text-anchor="middle" textLength="9" lengthAdjust="spacingAndGlyphs">40</text>
<line x1="464.9" y1="379.5" x2="464.9" y2="382" stroke="#222" stroke-width="1"/>
<text x="464.9" y="393.25" font-size="9.2" text-anchor="middle" textLength="9" lengthAdjust="spacingAndGlyphs">60</text>
<line x1="492.7" y1="379.5" x2="492.7" y2="382" stroke="#222" stroke-width="1"/>
<text x="492.7" y="393.25" font-size="9.2" text-anchor="middle" textLength="9" lengthAdjust="spacingAndGlyphs">80</text>
<text x="414.3" y="406.2" font-size="9.9" text-anchor="start" textLength="47.9" lengthAdjust="spacingAndGlyphs" style="stroke-width:0.08px">Days post BMT</text>
<text x="357.1" y="373.1" font-size="10.5" text-anchor="start" textLength="61.5" lengthAdjust="spacingAndGlyphs" transform="rotate(-90 357.1 373.1)" style="stroke-width:0.08px">% tumor mortality</text>
<line x1="381.5" y1="379.5" x2="496.3" y2="379.5" stroke="#222" stroke-width="1.4"/>
<line x1="381.5" y1="379.5" x2="496.3" y2="379.5" stroke="#477e6c" stroke-width="1.3"/>
<path d="M401.79 379.5H401.79V355.92H403.18V332.28H404.57V308.7" stroke="#e4952a" stroke-width="1.1" fill="none"/>
<rect x="399.29" y="353.42" width="5" height="5" fill="none" stroke="#e4952a" stroke-width="1"/>
<rect x="400.68" y="329.78" width="5" height="5" fill="none" stroke="#e4952a" stroke-width="1"/>
<rect x="402.07" y="306.2" width="5" height="5" fill="none" stroke="#e4952a" stroke-width="1"/>
<path d="M398.46 379.5H398.46V355.92H399.85V332.28H401.24V308.7" stroke="#6a4a8a" stroke-width="1.1" fill="none"/>
<circle cx="398.46" cy="355.92" r="3" fill="#4a1d64"/>
<circle cx="399.85" cy="332.28" r="3" fill="#4a1d64"/>
<circle cx="401.24" cy="308.7" r="3" fill="#4a1d64"/>
<path d="M432.93 379.5H432.93V372.42H434.32V365.34H435.71V358.26H437.38V351.18H438.91V344.1H440.57V329.94H455.45V322.86H492.7" stroke="#2b4b88" stroke-width="1.1" fill="none"/>
<path d="M432.93 369.19L436.13 374.95L429.73 374.95Z" fill="#2b4b88"/>
<path d="M434.32 362.11L437.52 367.87L431.12 367.87Z" fill="#2b4b88"/>
<path d="M435.71 355.03L438.91 360.79L432.51 360.79Z" fill="#2b4b88"/>
<path d="M437.38 347.95L440.58 353.71L434.18 353.71Z" fill="#2b4b88"/>
<path d="M438.91 340.87L442.11 346.63L435.71 346.63Z" fill="#2b4b88"/>
<path d="M440.57 326.71L443.77 332.47L437.38 332.47Z" fill="#2b4b88"/>
<path d="M455.45 319.63L458.65 325.39L452.25 325.39Z" fill="#2b4b88"/>
<path d="M492.7 319.63L495.9 325.39L489.5 325.39Z" fill="#2b4b88"/>
<circle cx="489.23" cy="379.5" r="2.9" fill="#a9002f"/>
<circle cx="492.7" cy="379.5" r="2.9" fill="#62ab3d"/>
<circle cx="492.7" cy="379.5" r="2.7" fill="none" stroke="#477e6c" stroke-width="0.8"/>
<path d="M489.3 316.5L489.3 318.5M488.43 317L490.17 318M490.17 317L488.43 318M492.5 316.5L492.5 318.5M491.63 317L493.37 318M493.37 317L491.63 318M495.7 316.5L495.7 318.5M494.83 317L496.57 318M496.57 317L494.83 318" stroke="#1a1a1a" stroke-width="1" stroke-linecap="round" fill="none"/>
<line x1="381.5" y1="427.5" x2="381.5" y2="497" stroke="#222" stroke-width="1.1"/>
<line x1="381.5" y1="497" x2="500.5" y2="497" stroke="#222" stroke-width="1.8"/>
<line x1="378.5" y1="497" x2="381.5" y2="497" stroke="#222" stroke-width="1"/>
<text x="375.8" y="500.25" font-size="9.2" text-anchor="end" textLength="4.5" lengthAdjust="spacingAndGlyphs">0</text>
<line x1="378.5" y1="481.32" x2="381.5" y2="481.32" stroke="#222" stroke-width="1"/>
<text x="375.8" y="484.57" font-size="9.2" text-anchor="end" textLength="9" lengthAdjust="spacingAndGlyphs">25</text>
<line x1="378.5" y1="465.65" x2="381.5" y2="465.65" stroke="#222" stroke-width="1"/>
<text x="375.8" y="468.9" font-size="9.2" text-anchor="end" textLength="9" lengthAdjust="spacingAndGlyphs">50</text>
<line x1="378.5" y1="449.98" x2="381.5" y2="449.98" stroke="#222" stroke-width="1"/>
<text x="375.8" y="453.23" font-size="9.2" text-anchor="end" textLength="9" lengthAdjust="spacingAndGlyphs">75</text>
<line x1="378.5" y1="434.3" x2="381.5" y2="434.3" stroke="#222" stroke-width="1"/>
<text x="375.8" y="437.55" font-size="9.2" text-anchor="end" textLength="13.51" lengthAdjust="spacingAndGlyphs">100</text>
<line x1="381.5" y1="497" x2="381.5" y2="499.5" stroke="#222" stroke-width="1"/>
<text x="381.5" y="510.25" font-size="9.2" text-anchor="middle" textLength="4.5" lengthAdjust="spacingAndGlyphs">0</text>
<line x1="410.3" y1="497" x2="410.3" y2="499.5" stroke="#222" stroke-width="1"/>
<text x="410.3" y="510.25" font-size="9.2" text-anchor="middle" textLength="9" lengthAdjust="spacingAndGlyphs">20</text>
<line x1="439.1" y1="497" x2="439.1" y2="499.5" stroke="#222" stroke-width="1"/>
<text x="439.1" y="510.25" font-size="9.2" text-anchor="middle" textLength="9" lengthAdjust="spacingAndGlyphs">40</text>
<line x1="467.9" y1="497" x2="467.9" y2="499.5" stroke="#222" stroke-width="1"/>
<text x="467.9" y="510.25" font-size="9.2" text-anchor="middle" textLength="9" lengthAdjust="spacingAndGlyphs">60</text>
<line x1="496.7" y1="497" x2="496.7" y2="499.5" stroke="#222" stroke-width="1"/>
<text x="496.7" y="510.25" font-size="9.2" text-anchor="middle" textLength="9" lengthAdjust="spacingAndGlyphs">80</text>
<text x="417.2" y="523.6" font-size="9.9" text-anchor="start" textLength="47.6" lengthAdjust="spacingAndGlyphs" style="stroke-width:0.08px">Days post BMT</text>
<text x="357" y="479" font-size="10.5" text-anchor="start" textLength="33.2" lengthAdjust="spacingAndGlyphs" transform="rotate(-90 357 479)" style="stroke-width:0.08px">% survival</text>
<path d="M427.58 434.3H427.58V440.57H429.31V446.84H437.66V453.11H445.15V459.38H448.75V465.65H450.91V471.92H496.7" stroke="#62ab3d" stroke-width="1.1" fill="none"/>
<rect x="424.78" y="437.77" width="5.6" height="5.6" fill="#62ab3d"/>
<rect x="426.51" y="444.04" width="5.6" height="5.6" fill="#62ab3d"/>
<rect x="434.86" y="450.31" width="5.6" height="5.6" fill="#62ab3d"/>
<rect x="442.35" y="456.58" width="5.6" height="5.6" fill="#62ab3d"/>
<rect x="445.95" y="462.85" width="5.6" height="5.6" fill="#62ab3d"/>
<rect x="448.11" y="469.12" width="5.6" height="5.6" fill="#62ab3d"/>
<rect x="493.9" y="469.12" width="5.6" height="5.6" fill="#62ab3d"/>
<path d="M435.07 434.3H435.07V440.57H436.22V446.84H439.39V459.38H440.83V465.65H441.98V478.19H458.54V484.46H496.7" stroke="#2b4b88" stroke-width="1.1" fill="none"/>
<path d="M435.07 437.34L438.27 443.1L431.87 443.1Z" fill="#2b4b88"/>
<path d="M436.22 443.61L439.42 449.37L433.02 449.37Z" fill="#2b4b88"/>
<path d="M439.39 456.15L442.59 461.91L436.19 461.91Z" fill="#2b4b88"/>
<path d="M440.83 462.42L444.03 468.18L437.63 468.18Z" fill="#2b4b88"/>
<path d="M441.98 474.96L445.18 480.72L438.78 480.72Z" fill="#2b4b88"/>
<path d="M458.54 481.23L461.74 486.99L455.34 486.99Z" fill="#2b4b88"/>
<path d="M496.7 481.23L499.9 486.99L493.5 486.99Z" fill="#2b4b88"/>
<path d="M403.1 434.3H403.1V440.57H405.98V446.84H417.5V453.11H420.38V459.38H422.25V465.65H423.69V471.92H429.31V478.19H430.75V484.46H432.33V490.73H449.76V497" stroke="#a9002f" stroke-width="1.1" fill="none"/>
<circle cx="403.1" cy="440.57" r="3" fill="#a9002f"/>
<circle cx="405.98" cy="446.84" r="3" fill="#a9002f"/>
<circle cx="417.5" cy="453.11" r="3" fill="#a9002f"/>
<circle cx="420.38" cy="459.38" r="3" fill="#a9002f"/>
<circle cx="422.25" cy="465.65" r="3" fill="#a9002f"/>
<circle cx="423.69" cy="471.92" r="3" fill="#a9002f"/>
<circle cx="429.31" cy="478.19" r="3" fill="#a9002f"/>
<circle cx="430.75" cy="484.46" r="3" fill="#a9002f"/>
<circle cx="432.33" cy="490.73" r="3" fill="#a9002f"/>
<circle cx="449.76" cy="497" r="3" fill="#a9002f"/>
<path d="M402.67 434.3H402.67V455.18H404.4V476.12H405.69V497" stroke="#e4952a" stroke-width="1.1" fill="none"/>
<rect x="400.17" y="452.68" width="5" height="5" fill="none" stroke="#e4952a" stroke-width="1"/>
<rect x="401.9" y="473.62" width="5" height="5" fill="none" stroke="#e4952a" stroke-width="1"/>
<rect x="403.19" y="494.5" width="5" height="5" fill="none" stroke="#e4952a" stroke-width="1"/>
<path d="M398.49 434.3H398.49V455.18H399.93V476.12H401.23V497" stroke="#6a4a8a" stroke-width="1.1" fill="none"/>
<circle cx="398.49" cy="455.18" r="3" fill="#4a1d64"/>
<circle cx="399.93" cy="476.12" r="3" fill="#4a1d64"/>
<circle cx="401.23" cy="497" r="3" fill="#4a1d64"/>
<path d="M381.5 434.3H496.7" stroke="#477e6c" stroke-width="1.3" fill="none"/>
<circle cx="496.7" cy="434.3" r="2.8" fill="none" stroke="#477e6c" stroke-width="1"/>
<line x1="369.2" y1="533.2" x2="382.2" y2="533.2" stroke="#477e6c" stroke-width="1.1"/>
<circle cx="375.7" cy="533.2" r="2.8" fill="none" stroke="#477e6c" stroke-width="1"/>
<text x="384.6" y="535.95" font-size="8.6" text-anchor="start" textLength="11.29" lengthAdjust="spacingAndGlyphs" style="stroke-width:0.06px">BM</text>
<line x1="369.2" y1="544.3" x2="382.2" y2="544.3" stroke="#e4952a" stroke-width="1.1"/>
<rect x="372.9" y="541.5" width="5.6" height="5.6" fill="none" stroke="#e4952a" stroke-width="1"/>
<text x="384.6" y="547.05" font-size="8.6" text-anchor="start" textLength="17.57" lengthAdjust="spacingAndGlyphs" style="stroke-width:0.06px">P815</text>
<line x1="369.2" y1="555.4" x2="382.2" y2="555.4" stroke="#4a1d64" stroke-width="1.1"/>
<circle cx="375.7" cy="555.4" r="3.2" fill="#4a1d64"/>
<text x="384.6" y="558.15" font-size="8.6" text-anchor="start" textLength="47.07" lengthAdjust="spacingAndGlyphs" style="stroke-width:0.06px">P815+EX-527</text>
<line x1="433.8" y1="533.2" x2="446.8" y2="533.2" stroke="#a9002f" stroke-width="1.1"/>
<circle cx="440.3" cy="533.2" r="3.2" fill="#a9002f"/>
<text x="449.2" y="535.95" font-size="8.6" text-anchor="start" textLength="11.7" lengthAdjust="spacingAndGlyphs" style="stroke-width:0.06px">WT</text>
<line x1="433.8" y1="544.3" x2="446.8" y2="544.3" stroke="#2b4b88" stroke-width="1.1"/>
<path d="M440.3 540.87L443.7 546.99L436.9 546.99Z" fill="#2b4b88"/>
<text x="449.2" y="547" font-size="8.6" text-anchor="start" textLength="17" lengthAdjust="spacingAndGlyphs" style="stroke-width:0.06px">Sirt-1</text>
<text x="467.7" y="543.7" font-size="5.6" text-anchor="start" textLength="5" lengthAdjust="spacingAndGlyphs" style="stroke-width:0.06px">-/-</text>
<line x1="433.8" y1="555.4" x2="446.8" y2="555.4" stroke="#62ab3d" stroke-width="1.1"/>
<rect x="437.3" y="552.4" width="6" height="6" fill="#62ab3d"/>
<text x="449.2" y="558.15" font-size="8.6" text-anchor="start" textLength="43.08" lengthAdjust="spacingAndGlyphs" style="stroke-width:0.06px">WT+EX+527</text>
<path d="M475.2 532.6H478.6V544.2H475.2" stroke="#2a2a2a" stroke-width="1.2" fill="none"/>
<path d="M483.9 535L483.9 537M483.03 535.5L484.77 536.5M484.77 535.5L483.03 536.5M487.1 535L487.1 537M486.23 535.5L487.97 536.5M487.97 535.5L486.23 536.5M490.3 535L490.3 537M489.43 535.5L491.17 536.5M491.17 535.5L489.43 536.5" stroke="#1a1a1a" stroke-width="1" stroke-linecap="round" fill="none"/>
<path d="M496 532.2H500.2V555.6H496" stroke="#2a2a2a" stroke-width="1.2" fill="none"/>
<path d="M504.8 541.5L504.8 543.5M503.93 542L505.67 543M505.67 542L503.93 543M508 541.5L508 543.5M507.13 542L508.87 543M508.87 542L507.13 543M511.2 541.5L511.2 543.5M510.33 542L512.07 543M512.07 542L510.33 543" stroke="#1a1a1a" stroke-width="1" stroke-linecap="round" fill="none"/>
<text x="203.3" y="311.3" font-size="9.6" text-anchor="start" textLength="23.2" lengthAdjust="spacingAndGlyphs">+P815</text>
<line x1="106.3" y1="316.2" x2="323.8" y2="316.2" stroke="#222" stroke-width="1.1"/>
<text x="34.1" y="329.3" font-size="9.6" text-anchor="start" textLength="11.5" lengthAdjust="spacingAndGlyphs">BM</text>
<text x="64.7" y="329.3" font-size="9.6" text-anchor="start" textLength="18.3" lengthAdjust="spacingAndGlyphs">P815</text>
<text x="129.6" y="329.3" font-size="9.6" text-anchor="start" textLength="12.4" lengthAdjust="spacingAndGlyphs">WT</text>
<text x="274.5" y="329.3" font-size="9.6" text-anchor="start" textLength="43" lengthAdjust="spacingAndGlyphs">WT+Ex-527</text>
<text x="205" y="329.3" font-size="9.6" text-anchor="start" textLength="18.2" lengthAdjust="spacingAndGlyphs">Sirt-1</text>
<text x="224.6" y="325.4" font-size="5.6" text-anchor="start" textLength="6" lengthAdjust="spacingAndGlyphs">-/-</text>
<text x="7.9" y="348.8" font-size="9.6" text-anchor="start" textLength="15.4" lengthAdjust="spacingAndGlyphs">d 10</text>
<text x="7.9" y="377.1" font-size="9.6" text-anchor="start" textLength="15.4" lengthAdjust="spacingAndGlyphs">d 18</text>
<text x="7.9" y="405.8" font-size="9.6" text-anchor="start" textLength="15.4" lengthAdjust="spacingAndGlyphs">d 25</text>
<text x="7.9" y="434.1" font-size="9.6" text-anchor="start" textLength="15.4" lengthAdjust="spacingAndGlyphs">d 31</text>
<text x="7.9" y="462.6" font-size="9.6" text-anchor="start" textLength="15.4" lengthAdjust="spacingAndGlyphs">d 46</text>
<text x="7.9" y="490.8" font-size="9.6" text-anchor="start" textLength="15.4" lengthAdjust="spacingAndGlyphs">d 63</text>
<defs>
<symbol id="m" viewBox="0 0 14 27" preserveAspectRatio="none"><rect width="14" height="27" fill="#545d5a"/><path d="M0 0L4.0 0L2.4 10L1.1 20L0.5 27L0 27Z" fill="#272030"/><path d="M14 0L10.0 0L11.6 10L12.9 20L13.5 27L14 27Z" fill="#272030"/><path d="M5.8 0L8.2 0L7 9Z" fill="#383042"/><path d="M3.2 4L4.2 4L3.6 13L3.0 13Z M10.8 4L9.8 4L10.4 13L11 13Z" fill="#3d3548"/><ellipse cx="7" cy="18.5" rx="4.6" ry="6.8" fill="#6c7470"/><rect x="4.8" y="15" width="1.4" height="1.4" fill="#a9ada7"/><rect x="8" y="17" width="1.3" height="1.3" fill="#a3a7a1"/><rect x="4.2" y="20" width="1.6" height="1.5" fill="#c0c2be"/><rect x="7.8" y="21" width="1.6" height="1.4" fill="#b7bbb5"/><rect x="2.4" y="22.5" width="1.4" height="1.4" fill="#b4b8b2"/><rect x="9.2" y="23" width="1.4" height="1.4" fill="#d0d0d0"/><circle cx="4.9" cy="3.0" r="0.85" fill="#d8d8d8"/><circle cx="9.1" cy="3.2" r="0.8" fill="#cccccc"/><rect x="6.0" y="23.2" width="2.0" height="3.8" fill="#f6f6f6"/><rect x="2.4" y="24.6" width="1.8" height="1.8" fill="#e0e0e0"/><rect x="9.9" y="24.6" width="1.8" height="1.8" fill="#dadada"/></symbol>
<filter id="noise" x="0" y="0" width="1" height="1" filterUnits="objectBoundingBox" color-interpolation-filters="sRGB"><feGaussianBlur in="SourceGraphic" stdDeviation="0.4" result="b"/><feTurbulence type="fractalNoise" baseFrequency="0.22" numOctaves="3" seed="4"/><feColorMatrix type="matrix" values="0.9 0 0.1 0 0  0.9 0.1 0 0 0  0.9 0 0.12 0 0  0 0 0 0 1" result="g"/><feComposite in="b" in2="g" operator="arithmetic" k1="0" k2="1" k3="0.75" k4="-0.37" result="c"/><feComposite in="c" in2="SourceAlpha" operator="in"/></filter>
</defs>
<g filter="url(#noise)"><use href="#m" x="27.6" y="334.6" width="14.06" height="26.4"/><use href="#m" x="41.66" y="334.6" width="14.06" height="26.4"/><use href="#m" x="55.72" y="334.6" width="14.06" height="26.4"/><use href="#m" x="69.78" y="334.6" width="14.06" height="26.4"/><use href="#m" x="83.84" y="334.6" width="14.06" height="26.4"/></g>
<rect x="27.6" y="334.6" width="70.3" height="26.4" fill="#ffffff" opacity="0.1"/>
<g filter="url(#noise)"><use href="#m" x="27.5" y="364.5" width="12.75" height="25"/><use href="#m" x="40.25" y="364.5" width="12.75" height="25"/></g>
<rect x="27.5" y="364.5" width="25.5" height="25" fill="#ffffff" opacity="0.1"/>
<g filter="url(#noise)"><use href="#m" x="27.5" y="392" width="12.75" height="25.5"/><use href="#m" x="40.25" y="392" width="12.75" height="25.5"/></g>
<rect x="27.5" y="392" width="25.5" height="25.5" fill="#ffffff" opacity="0.1"/>
<g filter="url(#noise)"><use href="#m" x="27" y="420" width="13.4" height="25.8"/><use href="#m" x="40.4" y="420" width="13.4" height="25.8"/></g>
<rect x="27" y="420" width="26.8" height="25.8" fill="#ffffff" opacity="0.1"/>
<g filter="url(#noise)"><use href="#m" x="27.5" y="448.3" width="12.75" height="24.2"/><use href="#m" x="40.25" y="448.3" width="12.75" height="24.2"/></g>
<rect x="27.5" y="448.3" width="25.5" height="24.2" fill="#ffffff" opacity="0.1"/>
<g filter="url(#noise)"><use href="#m" x="27.5" y="475" width="12.75" height="24.5"/><use href="#m" x="40.25" y="475" width="12.75" height="24.5"/></g>
<rect x="27.5" y="475" width="25.5" height="24.5" fill="#ffffff" opacity="0.1"/>
<g filter="url(#noise)"><use href="#m" x="101.3" y="334.5" width="14.14" height="26.3"/><use href="#m" x="115.44" y="334.5" width="14.14" height="26.3"/><use href="#m" x="129.58" y="334.5" width="14.14" height="26.3"/><use href="#m" x="143.72" y="334.5" width="14.14" height="26.3"/><use href="#m" x="157.86" y="334.5" width="14.14" height="26.3"/></g>
<g filter="url(#noise)"><use href="#m" x="101.3" y="363.8" width="14.83" height="25.7"/><use href="#m" x="116.13" y="363.8" width="14.83" height="25.7"/><use href="#m" x="130.97" y="363.8" width="14.83" height="25.7"/></g>
<g filter="url(#noise)"><use href="#m" x="101.3" y="391.8" width="14.83" height="25.7"/><use href="#m" x="116.13" y="391.8" width="14.83" height="25.7"/><use href="#m" x="130.97" y="391.8" width="14.83" height="25.7"/></g>
<g filter="url(#noise)"><use href="#m" x="101.8" y="419.5" width="16.25" height="28"/><use href="#m" x="118.05" y="419.5" width="16.25" height="28"/></g>
<g filter="url(#noise)"><use href="#m" x="181.3" y="335" width="14.1" height="27"/><use href="#m" x="195.4" y="335" width="14.1" height="27"/><use href="#m" x="209.5" y="335" width="14.1" height="27"/><use href="#m" x="223.6" y="335" width="14.1" height="27"/><use href="#m" x="237.7" y="335" width="14.1" height="27"/></g>
<g filter="url(#noise)"><use href="#m" x="181.3" y="364.5" width="14.1" height="24.3"/><use href="#m" x="195.4" y="364.5" width="14.1" height="24.3"/><use href="#m" x="209.5" y="364.5" width="14.1" height="24.3"/><use href="#m" x="223.6" y="364.5" width="14.1" height="24.3"/><use href="#m" x="237.7" y="364.5" width="14.1" height="24.3"/></g>
<g filter="url(#noise)"><use href="#m" x="181.3" y="390.5" width="14.1" height="26.3"/><use href="#m" x="195.4" y="390.5" width="14.1" height="26.3"/><use href="#m" x="209.5" y="390.5" width="14.1" height="26.3"/><use href="#m" x="223.6" y="390.5" width="14.1" height="26.3"/><use href="#m" x="237.7" y="390.5" width="14.1" height="26.3"/></g>
<g filter="url(#noise)"><use href="#m" x="182.1" y="418.6" width="13.92" height="25.5"/><use href="#m" x="196.02" y="418.6" width="13.92" height="25.5"/><use href="#m" x="209.94" y="418.6" width="13.92" height="25.5"/><use href="#m" x="223.86" y="418.6" width="13.92" height="25.5"/><use href="#m" x="237.78" y="418.6" width="13.92" height="25.5"/></g>
<g filter="url(#noise)"><use href="#m" x="212.5" y="444.8" width="13.05" height="24.8"/><use href="#m" x="225.55" y="444.8" width="13.05" height="24.8"/></g>
<g filter="url(#noise)"><use href="#m" x="213.5" y="470.9" width="12.7" height="23.9"/></g>
<g filter="url(#noise)"><use href="#m" x="262" y="335" width="13.96" height="26.3"/><use href="#m" x="275.96" y="335" width="13.96" height="26.3"/><use href="#m" x="289.92" y="335" width="13.96" height="26.3"/><use href="#m" x="303.88" y="335" width="13.96" height="26.3"/><use href="#m" x="317.84" y="335" width="13.96" height="26.3"/></g>
<rect x="262" y="335" width="69.8" height="26.3" fill="#000000" opacity="0.12"/>
<g filter="url(#noise)"><use href="#m" x="263" y="362.5" width="13.9" height="26.3"/><use href="#m" x="276.9" y="362.5" width="13.9" height="26.3"/><use href="#m" x="290.8" y="362.5" width="13.9" height="26.3"/><use href="#m" x="304.7" y="362.5" width="13.9" height="26.3"/><use href="#m" x="318.6" y="362.5" width="13.9" height="26.3"/></g>
<rect x="263" y="362.5" width="69.5" height="26.3" fill="#000000" opacity="0.12"/>
<g filter="url(#noise)"><use href="#m" x="263" y="390.5" width="13.9" height="25.8"/><use href="#m" x="276.9" y="390.5" width="13.9" height="25.8"/><use href="#m" x="290.8" y="390.5" width="13.9" height="25.8"/><use href="#m" x="304.7" y="390.5" width="13.9" height="25.8"/><use href="#m" x="318.6" y="390.5" width="13.9" height="25.8"/></g>
<rect x="263" y="390.5" width="69.5" height="25.8" fill="#000000" opacity="0.12"/>
<g filter="url(#noise)"><use href="#m" x="263.1" y="418.6" width="13.92" height="26.2"/><use href="#m" x="277.02" y="418.6" width="13.92" height="26.2"/><use href="#m" x="290.94" y="418.6" width="13.92" height="26.2"/><use href="#m" x="304.86" y="418.6" width="13.92" height="26.2"/><use href="#m" x="318.78" y="418.6" width="13.92" height="26.2"/></g>
<rect x="263.1" y="418.6" width="69.6" height="26.2" fill="#000000" opacity="0.12"/>
<g filter="url(#noise)"><use href="#m" x="263.1" y="445.8" width="14.73" height="25.4"/><use href="#m" x="277.83" y="445.8" width="14.73" height="25.4"/><use href="#m" x="292.57" y="445.8" width="14.73" height="25.4"/></g>
<rect x="263.1" y="445.8" width="44.2" height="25.4" fill="#000000" opacity="0.12"/>
<g filter="url(#noise)"><use href="#m" x="263.1" y="472.5" width="14.73" height="25.5"/><use href="#m" x="277.83" y="472.5" width="14.73" height="25.5"/><use href="#m" x="292.57" y="472.5" width="14.73" height="25.5"/></g>
<rect x="263.1" y="472.5" width="44.2" height="25.5" fill="#000000" opacity="0.12"/>
<path d="M63.08 334.6L63.43 336.25L63.78 337.9L64.18 339.55L64.61 341.2L65.04 342.85L65.46 344.5L65.87 346.15L66.27 347.8L66.68 349.45L67.07 351.1L67.44 352.75L67.82 354.4L67.51 356.05L66.58 357.7L64.49 359.35L63.32 361L60.68 361L59.51 359.35L57.42 357.7L56.49 356.05L56.18 354.4L56.55 352.75L56.93 351.1L57.32 349.45L57.73 347.8L58.13 346.15L58.54 344.5L58.96 342.85L59.39 341.2L59.82 339.55L60.22 337.9L60.57 336.25L60.92 334.6Z" fill="#1f2cff"/>
<path d="M62.86 337.87L63.14 339.19L63.42 340.51L63.74 341.83L64.09 343.15L64.43 344.47L64.77 345.79L65.09 347.11L65.42 348.43L65.74 349.75L66.06 351.07L66.36 352.39L66.66 353.71L66.41 355.03L65.66 356.35L63.99 357.67L63.06 358.99L60.94 358.99L60.01 357.67L58.34 356.35L57.59 355.03L57.34 353.71L57.64 352.39L57.94 351.07L58.26 349.75L58.58 348.43L58.91 347.11L59.23 345.79L59.57 344.47L59.91 343.15L60.26 341.83L60.58 340.51L60.86 339.19L61.14 337.87Z" fill="#2a6cff"/>
<ellipse cx="62.41" cy="347.39" rx="1.44" ry="1.41" fill="#f2ee1a"/>
<ellipse cx="59.02" cy="356.43" rx="1.34" ry="1.32" fill="#f2ee1a"/>
<ellipse cx="58.1" cy="355.03" rx="0.94" ry="0.71" fill="#14c8ff"/>
<ellipse cx="61.16" cy="350.6" rx="1.06" ry="1.21" fill="#14c8ff"/>
<ellipse cx="64.78" cy="351.22" rx="0.75" ry="0.54" fill="#14c8ff"/>
<ellipse cx="64.27" cy="350.7" rx="0.96" ry="1.01" fill="#14c8ff"/>
<ellipse cx="63.05" cy="348.89" rx="1.1" ry="1.21" fill="#1f2cff"/>
<ellipse cx="61.19" cy="351.93" rx="1.14" ry="1.44" fill="#14c8ff"/>
<ellipse cx="60.32" cy="353.12" rx="0.88" ry="0.77" fill="#14c8ff"/>
<ellipse cx="58.92" cy="349.88" rx="0.79" ry="0.69" fill="#14c8ff"/>
<ellipse cx="65.33" cy="358.74" rx="0.7" ry="0.58" fill="#14c8ff"/>
<ellipse cx="65.38" cy="347.79" rx="1.02" ry="0.76" fill="#14c8ff"/>
<ellipse cx="59.79" cy="354.71" rx="0.77" ry="0.69" fill="#1f2cff"/>
<ellipse cx="58.35" cy="354.25" rx="0.9" ry="0.68" fill="#14c8ff"/>
<ellipse cx="61.91" cy="347.67" rx="1.25" ry="1.01" fill="#f2ee1a"/>
<ellipse cx="63.07" cy="341.52" rx="0.8" ry="0.87" fill="#14c8ff"/>
<ellipse cx="65.13" cy="346.1" rx="0.7" ry="0.85" fill="#f2ee1a"/>
<ellipse cx="64.15" cy="344.07" rx="0.87" ry="0.81" fill="#f2ee1a"/>
<ellipse cx="58.59" cy="351.64" rx="1.49" ry="1.23" fill="#3ee04a"/>
<ellipse cx="62.33" cy="337.45" rx="1.36" ry="1.27" fill="#14c8ff"/>
<ellipse cx="62.31" cy="339.26" rx="0.89" ry="0.95" fill="#3ee04a"/>
<ellipse cx="58.88" cy="351.2" rx="1.17" ry="1.4" fill="#14c8ff"/>
<ellipse cx="58.96" cy="356.68" rx="0.82" ry="1.03" fill="#f2ee1a"/>
<ellipse cx="60.41" cy="342.84" rx="1.29" ry="1.63" fill="#14c8ff"/>
<ellipse cx="61" cy="352.66" rx="1.09" ry="0.81" fill="#14c8ff"/>
<ellipse cx="60.22" cy="339.57" rx="1.47" ry="1.24" fill="#1f2cff"/>
<ellipse cx="62" cy="346.5" rx="3.6" ry="1.5" fill="#ff0a0a"/>
<ellipse cx="61.5" cy="346.2" rx="1.5" ry="0.7" fill="#f2ee1a"/>
<ellipse cx="60" cy="354.2" rx="2.8" ry="2" fill="#ff0a0a"/>
<ellipse cx="64.4" cy="354.6" rx="2.4" ry="1.8" fill="#ff0a0a"/>
<ellipse cx="62.2" cy="351" rx="1.2" ry="0.9" fill="#f2ee1a"/>
<ellipse cx="58.8" cy="350.5" rx="1" ry="0.9" fill="#3ee04a"/>
<path d="M92.88 334.6L93.23 336.25L93.58 337.9L93.98 339.55L94.41 341.2L94.84 342.85L95.26 344.5L95.67 346.15L96.07 347.8L96.48 349.45L96.87 351.1L97.25 352.75L97.62 354.4L97.31 356.05L96.38 357.7L94.29 359.35L93.12 361L90.48 361L89.31 359.35L87.22 357.7L86.29 356.05L85.98 354.4L86.35 352.75L86.73 351.1L87.12 349.45L87.53 347.8L87.93 346.15L88.34 344.5L88.76 342.85L89.19 341.2L89.62 339.55L90.02 337.9L90.37 336.25L90.72 334.6Z" fill="#1f2cff"/>
<path d="M92.66 337.87L92.94 339.19L93.22 340.51L93.54 341.83L93.89 343.15L94.23 344.47L94.57 345.79L94.89 347.11L95.22 348.43L95.54 349.75L95.86 351.07L96.16 352.39L96.46 353.71L96.21 355.03L95.46 356.35L93.79 357.67L92.86 358.99L90.74 358.99L89.81 357.67L88.14 356.35L87.39 355.03L87.14 353.71L87.44 352.39L87.74 351.07L88.06 349.75L88.38 348.43L88.71 347.11L89.03 345.79L89.37 344.47L89.71 343.15L90.06 341.83L90.38 340.51L90.66 339.19L90.94 337.87Z" fill="#2a6cff"/>
<ellipse cx="93.48" cy="343.01" rx="1.18" ry="1.03" fill="#14c8ff"/>
<ellipse cx="96.38" cy="358.09" rx="0.8" ry="0.79" fill="#f2ee1a"/>
<ellipse cx="89.98" cy="351.02" rx="1.43" ry="1.18" fill="#14c8ff"/>
<ellipse cx="91.49" cy="338.79" rx="0.9" ry="0.65" fill="#3ee04a"/>
<ellipse cx="92.24" cy="345.52" rx="0.81" ry="0.74" fill="#1f2cff"/>
<ellipse cx="93.31" cy="359.24" rx="1.25" ry="1.32" fill="#14c8ff"/>
<ellipse cx="95.22" cy="350.48" rx="1.08" ry="0.99" fill="#3ee04a"/>
<ellipse cx="87.2" cy="358.84" rx="1.21" ry="1.2" fill="#3ee04a"/>
<ellipse cx="94.66" cy="344.4" rx="0.76" ry="0.78" fill="#14c8ff"/>
<ellipse cx="94.08" cy="357.44" rx="1.26" ry="1.49" fill="#3ee04a"/>
<ellipse cx="92.91" cy="345.14" rx="1.42" ry="1.74" fill="#1f2cff"/>
<ellipse cx="87.29" cy="358.43" rx="1.1" ry="0.78" fill="#1f2cff"/>
<ellipse cx="88.76" cy="345.75" rx="0.76" ry="0.57" fill="#14c8ff"/>
<ellipse cx="95.45" cy="359.53" rx="1.28" ry="1.2" fill="#f2ee1a"/>
<ellipse cx="91.54" cy="347.51" rx="1.13" ry="1.15" fill="#f2ee1a"/>
<ellipse cx="92.12" cy="337.91" rx="1.08" ry="0.91" fill="#14c8ff"/>
<ellipse cx="92.63" cy="348.4" rx="1.44" ry="1.23" fill="#14c8ff"/>
<ellipse cx="89.61" cy="345.5" rx="1.19" ry="1.2" fill="#3ee04a"/>
<ellipse cx="91.3" cy="352.05" rx="1.41" ry="1.27" fill="#3ee04a"/>
<ellipse cx="91.48" cy="341.69" rx="1.34" ry="1.68" fill="#14c8ff"/>
<ellipse cx="92.32" cy="345.87" rx="0.95" ry="0.75" fill="#1f2cff"/>
<ellipse cx="94.17" cy="345.11" rx="0.73" ry="0.54" fill="#3ee04a"/>
<ellipse cx="88.08" cy="355.68" rx="1.08" ry="1.35" fill="#1f2cff"/>
<ellipse cx="91.93" cy="345.82" rx="1.24" ry="1.4" fill="#f2ee1a"/>
<ellipse cx="88.87" cy="347.39" rx="0.73" ry="0.89" fill="#14c8ff"/>
<ellipse cx="89.86" cy="352.46" rx="0.98" ry="1.07" fill="#f2ee1a"/>
<ellipse cx="91.8" cy="346.5" rx="3.6" ry="1.5" fill="#ff0a0a"/>
<ellipse cx="91.3" cy="346.2" rx="1.5" ry="0.7" fill="#f2ee1a"/>
<ellipse cx="89.8" cy="354.2" rx="2.8" ry="2" fill="#ff0a0a"/>
<ellipse cx="94.2" cy="354.6" rx="2.4" ry="1.8" fill="#ff0a0a"/>
<ellipse cx="92" cy="351" rx="1.2" ry="0.9" fill="#f2ee1a"/>
<ellipse cx="88.6" cy="350.5" rx="1" ry="0.9" fill="#3ee04a"/>
<path d="M79.46 334.4L79.87 336.06L80.28 337.72L80.74 339.39L81.25 341.05L81.75 342.71L82.24 344.38L82.71 346.04L83.18 347.7L83.66 349.36L84.12 351.02L84.55 352.69L84.99 354.35L84.63 356.01L83.54 357.68L81.1 359.34L79.74 361L76.66 361L75.3 359.34L72.86 357.68L71.77 356.01L71.41 354.35L71.85 352.69L72.28 351.02L72.74 349.36L73.22 347.7L73.69 346.04L74.16 344.38L74.65 342.71L75.16 341.05L75.66 339.39L76.12 337.72L76.53 336.06L76.94 334.4Z" fill="#1f2cff"/>
<path d="M79.38 335.39L79.77 336.95L80.15 338.52L80.59 340.08L81.06 341.64L81.54 343.2L82 344.77L82.44 346.33L82.88 347.89L83.33 349.45L83.76 351.02L84.17 352.58L84.58 354.14L84.25 355.71L83.22 357.27L80.93 358.83L79.65 360.39L76.75 360.39L75.47 358.83L73.18 357.27L72.15 355.71L71.82 354.14L72.23 352.58L72.64 351.02L73.07 349.45L73.52 347.89L73.96 346.33L74.4 344.77L74.86 343.2L75.34 341.64L75.81 340.08L76.25 338.52L76.63 336.95L77.02 335.39Z" fill="#14c8ff"/>
<path d="M79.32 336.21L79.68 337.69L80.05 339.17L80.46 340.65L80.91 342.13L81.36 343.61L81.79 345.09L82.22 346.57L82.64 348.05L83.06 349.53L83.46 351.01L83.85 352.49L84.24 353.97L83.92 355.45L82.95 356.93L80.78 358.41L79.57 359.89L76.83 359.89L75.62 358.41L73.45 356.93L72.48 355.45L72.16 353.97L72.55 352.49L72.94 351.01L73.34 349.53L73.76 348.05L74.18 346.57L74.61 345.09L75.04 343.61L75.49 342.13L75.94 340.65L76.35 339.17L76.72 337.69L77.08 336.21Z" fill="#3ee04a"/>
<path d="M79.27 336.87L79.62 338.29L79.97 339.7L80.36 341.11L80.79 342.53L81.22 343.94L81.63 345.35L82.03 346.77L82.44 348.18L82.84 349.59L83.23 351.01L83.6 352.42L83.97 353.83L83.67 355.24L82.74 356.66L80.67 358.07L79.51 359.48L76.89 359.48L75.73 358.07L73.66 356.66L72.73 355.24L72.43 353.83L72.8 352.42L73.17 351.01L73.56 349.59L73.96 348.18L74.37 346.77L74.77 345.35L75.18 343.94L75.61 342.53L76.04 341.11L76.43 339.7L76.78 338.29L77.13 336.87Z" fill="#f2ee1a"/>
<path d="M79.22 337.53L79.55 338.88L79.88 340.23L80.26 341.57L80.67 342.92L81.07 344.27L81.47 345.61L81.85 346.96L82.24 348.31L82.62 349.65L82.99 351L83.35 352.35L83.7 353.69L83.41 355.04L82.52 356.39L80.55 357.73L79.45 359.08L76.95 359.08L75.85 357.73L73.88 356.39L72.99 355.04L72.7 353.69L73.05 352.35L73.41 351L73.78 349.65L74.16 348.31L74.55 346.96L74.93 345.61L75.33 344.27L75.73 342.92L76.14 341.57L76.52 340.23L76.85 338.88L77.18 337.53Z" fill="#ff0a0a"/>
<ellipse cx="78.2" cy="349.5" rx="5.3" ry="6" fill="#ff0a0a"/>
<ellipse cx="78.3" cy="336" rx="1.6" ry="1.4" fill="#14c8ff"/>
<ellipse cx="78.2" cy="337.5" rx="1.3" ry="1" fill="#3ee04a"/>
<ellipse cx="202.5" cy="403.5" rx="1.8" ry="1.6" fill="#1f2cff"/>
<ellipse cx="203.5" cy="399.8" rx="1.2" ry="1.2" fill="#1f2cff"/>
<ellipse cx="204.3" cy="398.8" rx="0.8" ry="0.8" fill="#14c8ff"/>
<ellipse cx="200.8" cy="410.5" rx="2.6" ry="2.2" fill="#1f2cff"/>
<ellipse cx="203.8" cy="411.5" rx="2" ry="1.8" fill="#1f2cff"/>
<ellipse cx="202" cy="413.6" rx="1.8" ry="1.2" fill="#1f2cff"/>
<ellipse cx="201.6" cy="410.8" rx="0.8" ry="0.8" fill="#14c8ff"/>
<ellipse cx="204.2" cy="411.8" rx="0.7" ry="0.7" fill="#14c8ff"/>
<ellipse cx="230.4" cy="402.8" rx="1.1" ry="1.3" fill="#1f2cff"/>
<ellipse cx="246.7" cy="400.6" rx="1.1" ry="1.1" fill="#14c8ff"/>
<path d="M202.63 420.5L202.9 421.94L203.16 423.38L203.47 424.81L203.8 426.25L204.13 427.69L204.45 429.12L204.76 430.56L205.08 432L205.39 433.44L205.69 434.88L205.97 436.31L206.26 437.75L206.03 439.19L205.31 440.62L203.71 442.06L202.81 443.5L200.79 443.5L199.89 442.06L198.29 440.62L197.57 439.19L197.34 437.75L197.63 436.31L197.91 434.88L198.21 433.44L198.52 432L198.84 430.56L199.15 429.12L199.47 427.69L199.8 426.25L200.13 424.81L200.44 423.38L200.7 421.94L200.97 420.5Z" fill="#1f2cff"/>
<path d="M202.3 426.2L202.46 427.07L202.62 427.93L202.8 428.79L203 429.65L203.2 430.52L203.39 431.38L203.58 432.24L203.77 433.1L203.95 433.97L204.13 434.83L204.3 435.69L204.48 436.55L204.34 437.42L203.9 438.28L202.94 439.14L202.41 440L201.19 440L200.66 439.14L199.7 438.28L199.26 437.42L199.12 436.55L199.3 435.69L199.47 434.83L199.65 433.97L199.83 433.1L200.02 432.24L200.21 431.38L200.4 430.52L200.6 429.65L200.8 428.79L200.98 427.93L201.14 427.07L201.3 426.2Z" fill="#2a6cff"/>
<ellipse cx="200.93" cy="423.17" rx="0.77" ry="0.55" fill="#1f2cff"/>
<ellipse cx="200.42" cy="427.44" rx="0.53" ry="0.57" fill="#1f2cff"/>
<ellipse cx="201.91" cy="424.93" rx="0.88" ry="0.81" fill="#14c8ff"/>
<ellipse cx="199.75" cy="436.18" rx="0.79" ry="0.63" fill="#14c8ff"/>
<ellipse cx="202.05" cy="437.56" rx="0.52" ry="0.44" fill="#1f2cff"/>
<ellipse cx="204.42" cy="433.35" rx="0.8" ry="1.04" fill="#14c8ff"/>
<ellipse cx="203.23" cy="430.49" rx="1.04" ry="0.79" fill="#3ee04a"/>
<ellipse cx="201.56" cy="430.38" rx="0.62" ry="0.76" fill="#14c8ff"/>
<ellipse cx="202.13" cy="430.17" rx="1.03" ry="1.21" fill="#1f2cff"/>
<ellipse cx="202.61" cy="431.87" rx="0.62" ry="0.71" fill="#3ee04a"/>
<ellipse cx="203" cy="426.3" rx="2.9" ry="2.6" fill="#ff0a0a"/>
<ellipse cx="197.5" cy="421.5" rx="1" ry="1" fill="#1f2cff"/>
<path d="M234.09 422.5L234.35 423.66L234.61 424.81L234.9 425.97L235.21 427.12L235.53 428.28L235.84 429.44L236.14 430.59L236.43 431.75L236.73 432.91L237.02 434.06L237.29 435.22L237.57 436.38L237.34 437.53L236.66 438.69L235.12 439.84L234.27 441L232.33 441L231.48 439.84L229.95 438.69L229.26 437.53L229.03 436.38L229.31 435.22L229.58 434.06L229.87 432.91L230.17 431.75L230.46 430.59L230.76 429.44L231.07 428.28L231.39 427.12L231.7 425.97L231.99 424.81L232.25 423.66L232.51 422.5Z" fill="#1f2cff"/>
<path d="M233.89 425.37L234.09 426.23L234.28 427.1L234.5 427.97L234.74 428.84L234.97 429.7L235.2 430.57L235.43 431.44L235.65 432.31L235.87 433.17L236.09 434.04L236.29 434.91L236.5 435.77L236.33 436.64L235.82 437.51L234.67 438.38L234.03 439.24L232.57 439.24L231.93 438.38L230.78 437.51L230.27 436.64L230.1 435.77L230.31 434.91L230.51 434.04L230.73 433.17L230.95 432.31L231.17 431.44L231.4 430.57L231.63 429.7L231.86 428.84L232.1 427.97L232.32 427.1L232.51 426.23L232.71 425.37Z" fill="#14c8ff"/>
<path d="M233.74 427.66L233.88 428.3L234.02 428.93L234.18 429.57L234.35 430.21L234.53 430.84L234.7 431.48L234.86 432.11L235.02 432.75L235.19 433.38L235.34 434.02L235.5 434.66L235.65 435.29L235.52 435.93L235.15 436.56L234.3 437.2L233.83 437.84L232.77 437.84L232.3 437.2L231.45 436.56L231.08 435.93L230.95 435.29L231.1 434.66L231.26 434.02L231.41 433.38L231.58 432.75L231.74 432.11L231.9 431.48L232.07 430.84L232.25 430.21L232.42 429.57L232.58 428.93L232.72 428.3L232.86 427.66Z" fill="#3ee04a"/>
<ellipse cx="230.65" cy="438.88" rx="0.67" ry="0.63" fill="#1f2cff"/>
<ellipse cx="233.56" cy="439.72" rx="1.05" ry="0.94" fill="#f2ee1a"/>
<ellipse cx="232.23" cy="437.81" rx="0.56" ry="0.54" fill="#f2ee1a"/>
<ellipse cx="232.21" cy="430.98" rx="1.14" ry="0.95" fill="#1f2cff"/>
<ellipse cx="231.02" cy="431.09" rx="0.87" ry="0.97" fill="#1f2cff"/>
<ellipse cx="235.88" cy="431.75" rx="1.13" ry="1.14" fill="#f2ee1a"/>
<ellipse cx="236.22" cy="435.19" rx="0.84" ry="1.07" fill="#1f2cff"/>
<ellipse cx="232.88" cy="436.27" rx="0.89" ry="1.07" fill="#f2ee1a"/>
<ellipse cx="233.44" cy="434.4" rx="1.09" ry="1.13" fill="#14c8ff"/>
<ellipse cx="236.23" cy="434.91" rx="1.11" ry="1.18" fill="#14c8ff"/>
<ellipse cx="232.3" cy="436" rx="2" ry="1.8" fill="#ff0a0a"/>
<ellipse cx="234.8" cy="437.5" rx="1.6" ry="1.3" fill="#ff0a0a"/>
<ellipse cx="233" cy="433" rx="1.3" ry="1" fill="#f2ee1a"/>
<ellipse cx="233.5" cy="423.5" rx="1.4" ry="1.1" fill="#1f2cff"/>
<path d="M233.5 445.5L233.79 446.99L234.08 448.49L234.42 449.98L234.78 451.48L235.13 452.97L235.48 454.46L235.82 455.96L236.16 457.45L236.5 458.94L236.82 460.44L237.14 461.93L237.45 463.42L237.19 464.92L236.41 466.41L234.67 467.91L233.7 469.4L231.5 469.4L230.53 467.91L228.79 466.41L228.01 464.92L227.75 463.42L228.06 461.93L228.38 460.44L228.7 458.94L229.04 457.45L229.38 455.96L229.72 454.46L230.07 452.97L230.42 451.48L230.78 449.98L231.12 448.49L231.41 446.99L231.7 445.5Z" fill="#1f2cff"/>
<path d="M233.36 447.72L233.61 448.99L233.86 450.26L234.14 451.53L234.45 452.8L234.75 454.07L235.05 455.34L235.34 456.61L235.63 457.88L235.91 459.15L236.19 460.42L236.46 461.69L236.72 462.96L236.5 464.23L235.84 465.5L234.36 466.77L233.53 468.04L231.66 468.04L230.84 466.77L229.36 465.5L228.7 464.23L228.48 462.96L228.74 461.69L229.01 460.42L229.29 459.15L229.57 457.88L229.86 456.61L230.15 455.34L230.45 454.07L230.75 452.8L231.06 451.53L231.34 450.26L231.59 448.99L231.84 447.72Z" fill="#14c8ff"/>
<path d="M233.25 449.65L233.46 450.72L233.67 451.8L233.91 452.88L234.17 453.95L234.42 455.03L234.68 456.1L234.92 457.18L235.16 458.25L235.41 459.33L235.64 460.4L235.87 461.48L236.09 462.56L235.91 463.63L235.34 464.71L234.09 465.78L233.39 466.86L231.81 466.86L231.11 465.78L229.85 464.71L229.29 463.63L229.11 462.56L229.33 461.48L229.56 460.4L229.79 459.33L230.04 458.25L230.28 457.18L230.52 456.1L230.78 455.03L231.03 453.95L231.29 452.88L231.53 451.8L231.74 450.72L231.95 449.65Z" fill="#3ee04a"/>
<ellipse cx="236.35" cy="465.17" rx="0.87" ry="0.9" fill="#14c8ff"/>
<ellipse cx="230.5" cy="456.24" rx="0.5" ry="0.47" fill="#1f2cff"/>
<ellipse cx="231.98" cy="458.37" rx="1.06" ry="1.1" fill="#3ee04a"/>
<ellipse cx="231.56" cy="449.78" rx="1.15" ry="1.12" fill="#3ee04a"/>
<ellipse cx="232.48" cy="453.36" rx="0.59" ry="0.57" fill="#3ee04a"/>
<ellipse cx="230.15" cy="458.56" rx="0.79" ry="0.57" fill="#f2ee1a"/>
<ellipse cx="233.55" cy="450.52" rx="0.52" ry="0.42" fill="#14c8ff"/>
<ellipse cx="232.05" cy="448.13" rx="1.01" ry="0.85" fill="#3ee04a"/>
<ellipse cx="233.34" cy="450.02" rx="0.59" ry="0.59" fill="#f2ee1a"/>
<ellipse cx="234.14" cy="462.47" rx="1.12" ry="0.8" fill="#3ee04a"/>
<ellipse cx="233.53" cy="464.65" rx="0.88" ry="1.07" fill="#14c8ff"/>
<ellipse cx="234.81" cy="458.65" rx="0.93" ry="1.13" fill="#14c8ff"/>
<ellipse cx="232.8" cy="454.5" rx="3.4" ry="3.4" fill="#ff0a0a"/>
<ellipse cx="231.6" cy="464.8" rx="2.2" ry="2" fill="#ff0a0a"/>
<ellipse cx="234.6" cy="461" rx="1.5" ry="1.3" fill="#f2ee1a"/>
<ellipse cx="230.5" cy="460" rx="1.2" ry="1" fill="#f2ee1a"/>
<ellipse cx="233" cy="446.2" rx="1" ry="0.9" fill="#14c8ff"/>
<rect x="0.5" y="0.5" width="518.8" height="565.9" fill="none" stroke="#000" stroke-width="1.05"/>
</svg>
</body></html>
